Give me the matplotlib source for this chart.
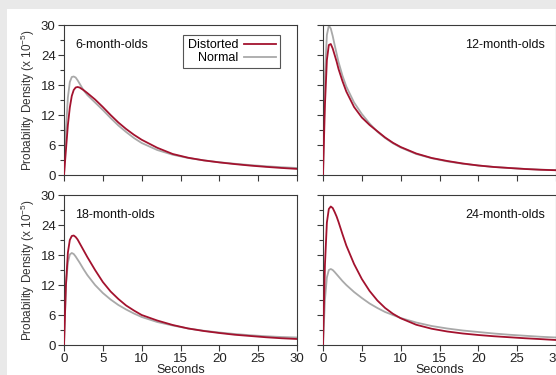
import matplotlib
matplotlib.use("Agg")
import matplotlib.pyplot as plt
from matplotlib.patches import Rectangle
from matplotlib.ticker import MultipleLocator

plt.rcParams['font.family'] = ['Liberation Sans', 'DejaVu Sans']
plt.rcParams['mathtext.default'] = 'regular'

seconds = [0, 0.25, 0.5, 0.75, 1, 1.25, 1.5, 1.75, 2, 2.5, 3, 4, 5, 6, 7, 8, 9, 10,
           12, 14, 16, 18, 20, 22, 24, 26, 28, 30]

m6_distorted = [0, 5, 10, 13.5, 15.8, 17.0, 17.5, 17.6, 17.5, 17.0, 16.4, 15.1, 13.6, 12.0, 10.5,
                9.2, 8.05, 7.05, 5.45, 4.2, 3.45, 2.92, 2.52, 2.18, 1.88, 1.63, 1.41, 1.22]
m6_normal = [0, 9, 15.5, 18.6, 19.6, 19.7, 19.5, 18.95, 18.3, 17.0, 16.0, 14.5, 13.0, 11.4, 9.9,
             8.6, 7.4, 6.4, 5.0, 4.05, 3.4, 2.93, 2.55, 2.25, 1.98, 1.75, 1.56, 1.4]

m12_distorted = [0, 14, 23, 26.0, 26.2, 25.3, 24.0, 22.7, 21.2, 18.8, 16.7, 13.6, 11.5, 10.0, 8.75,
                 7.5, 6.45, 5.6, 4.3, 3.4, 2.8, 2.3, 1.9, 1.6, 1.4, 1.2, 1.05, 0.95]
m12_normal = [0, 20, 28, 29.9, 29.3, 27.8, 26.0, 24.3, 22.6, 19.9, 17.7, 14.5, 12.2, 10.3, 8.65,
              7.4, 6.35, 5.5, 4.2, 3.35, 2.72, 2.25, 1.9, 1.62, 1.4, 1.22, 1.07, 0.97]

m18_distorted = [0, 12, 18.5, 21.0, 21.8, 21.9, 21.6, 21.1, 20.4, 19.0, 17.6, 15.0, 12.6, 10.7, 9.2,
                 7.9, 6.9, 6.0, 4.9, 4.0, 3.3, 2.8, 2.4, 2.05, 1.8, 1.55, 1.35, 1.2]
m18_normal = [0, 12, 16.5, 18.1, 18.4, 18.2, 17.7, 17.1, 16.5, 15.2, 14.0, 12.0, 10.4, 9.1, 8.0,
              7.1, 6.3, 5.6, 4.6, 3.9, 3.3, 2.85, 2.5, 2.2, 1.95, 1.75, 1.6, 1.5]

m24_distorted = [0, 16, 24.5, 27.2, 27.7, 27.4, 26.6, 25.7, 24.6, 22.2, 19.9, 16.2, 13.2, 10.8, 8.9,
                 7.4, 6.25, 5.35, 4.05, 3.25, 2.7, 2.3, 2.0, 1.75, 1.55, 1.35, 1.18, 1.0]
m24_normal = [0, 9, 13.5, 15.0, 15.2, 15.0, 14.6, 14.15, 13.7, 12.8, 12.0, 10.6, 9.4, 8.3, 7.4,
              6.6, 6.0, 5.4, 4.5, 3.8, 3.3, 2.9, 2.6, 2.3, 2.05, 1.85, 1.65, 1.5]

panel_titles = ['6-month-olds', '12-month-olds', '18-month-olds', '24-month-olds']
distorted = [m6_distorted, m12_distorted, m18_distorted, m24_distorted]
normal = [m6_normal, m12_normal, m18_normal, m24_normal]

RED = '#a3122e'
GRAY = '#a9a9a9'
SPINE = '#3a3a3a'

fig = plt.figure(figsize=(5.56, 3.75), dpi=100)
fig.patch.set_facecolor('#e9e9e9')
fig.patches.append(Rectangle((7 / 556, 0), 1, 1 - 9 / 375, transform=fig.transFigure,
                             facecolor='white', edgecolor='none', zorder=-10))

W = 233 / 556
H = 150 / 375
lefts = [64 / 556, 323 / 556]
bottoms = [1 - 175 / 375, 1 - 345 / 375]

for i in range(4):
    r, c = divmod(i, 2)
    ax = fig.add_axes([lefts[c], bottoms[r], W, H])
    ax.set_facecolor('white')
    ax.plot(seconds, normal[i], color=GRAY, lw=1.3, label='Normal', zorder=2)
    ax.plot(seconds, distorted[i], color=RED, lw=1.3, label='Distorted', zorder=3)
    ax.set_xlim(0, 30)
    ax.set_ylim(0, 30)
    ax.xaxis.set_major_locator(MultipleLocator(5))
    ax.yaxis.set_major_locator(MultipleLocator(6))
    ax.yaxis.set_minor_locator(MultipleLocator(3))
    ax.tick_params(axis='both', which='major', direction='out', length=4, width=0.8,
                   color=SPINE, labelsize=9.5, pad=2, labelcolor='#222222')
    ax.tick_params(axis='y', which='minor', direction='out', length=3, width=0.8, color=SPINE)
    for s in ax.spines.values():
        s.set_color(SPINE)
        s.set_linewidth(0.8)
    if r == 0:
        ax.tick_params(labelbottom=False)
    else:
        ax.set_xlabel('Seconds', fontsize=9, labelpad=-1, color='#222222')
    if c == 1:
        ax.tick_params(labelleft=False)
        ax.text(0.953, 0.868 if r == 0 else 0.867, panel_titles[i], transform=ax.transAxes,
                ha='right', va='center', fontsize=9, color='#111111')
    else:
        ax.set_ylabel('Probability Density (x 10$^{-5}$)', fontsize=8.5, labelpad=3,
                      color='#333333')
        ax.text(0.047, 0.868 if r == 0 else 0.867, panel_titles[i], transform=ax.transAxes,
                ha='left', va='center', fontsize=9, color='#111111')
    if i == 0:
        h, l = ax.get_legend_handles_labels()
        leg = ax.legend([h[1], h[0]], [l[1], l[0]], loc='upper right',
                        bbox_to_anchor=(0.927, 0.933), borderaxespad=0,
                        markerfirst=False, fancybox=False, fontsize=9,
                        handlelength=2.5, handletextpad=0.5, labelspacing=0.05,
                        borderpad=0.35, framealpha=1)
        leg.get_frame().set_edgecolor('#555555')
        leg.get_frame().set_linewidth(0.8)

fig.savefig('out.png', dpi=100, facecolor=fig.get_facecolor())
